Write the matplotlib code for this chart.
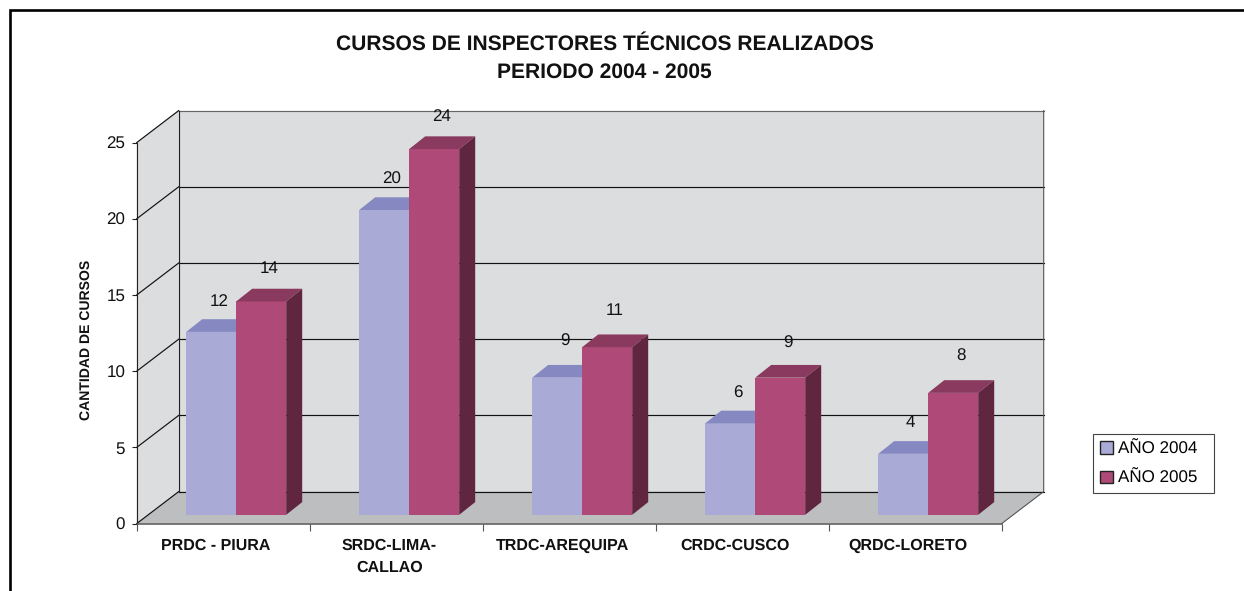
import matplotlib
matplotlib.use('Agg')
import numpy as np
import matplotlib.pyplot as plt
from matplotlib.lines import Line2D
from matplotlib.patches import Patch, Polygon

plt.rcParams['font.family'] = ['Liberation Sans', 'DejaVu Sans']
plt.rcParams['text.hinting'] = 'no_hinting'
plt.rcParams['text.hinting_factor'] = 1

# Datos
categorias = ['PRDC - PIURA', 'SRDC-LIMA-\nCALLAO', 'TRDC-AREQUIPA', 'CRDC-CUSCO', 'QRDC-LORETO']
anio_2004 = [12, 20, 9, 6, 4]
anio_2005 = [14, 24, 11, 9, 8]
ticks_y = [0, 5, 10, 15, 20, 25]

# Ajuste vertical de las etiquetas, en pixeles
ajuste_2004 = [-2, -2, 4, -3, -1]
ajuste_2005 = [0, 0, 4, 2, 4]

# Colores
c_pared = '#DCDDDF'
c_piso = '#BDBEC0'
c_2004 = ('#A9ABD6', '#8688C2')
c_2005 = ('#AF4977', '#8A3A5F', '#60263F')

W, H = 1244, 591
fig = plt.figure(figsize=(W / 100, H / 100), dpi=100)

# Ejes: el plano frontal del grafico 3D
x0, y0, ancho, alto = 136.7, 523.6, 865, 381
ax = fig.add_axes([x0 / W, (H - y0) / H, ancho / W, alto / H])
ax.set_xlim(0, 5)
ax.set_ylim(0, 25)
ax.patch.set_visible(False)
for s in ['top', 'right']:
    ax.spines[s].set_visible(False)
ax.spines['left'].set_color('#222222')
ax.spines['bottom'].set_color('#555555')
ax.spines['bottom'].set_linewidth(1.1)

# De pixeles a unidades de datos
px_x = 5 / ancho
px_y = 25 / alto
fondo_x, fondo_y = 42 * px_x, 32 * px_y


def poligono(puntos, color, z):
    ax.add_patch(Polygon(puntos, closed=True, facecolor=color, edgecolor='none', clip_on=False, zorder=z))


# Paredes y piso
poligono([(0, 0), (fondo_x, fondo_y), (fondo_x, 25 + fondo_y), (0, 25)], c_pared, 1)
poligono([(fondo_x, fondo_y), (5 + fondo_x, fondo_y), (5 + fondo_x, 25 + fondo_y), (fondo_x, 25 + fondo_y)], c_pared, 1)
poligono([(0, 0), (5, 0), (5 + fondo_x, fondo_y), (fondo_x, fondo_y)], c_piso, 1)

# Lineas de la cuadricula
for t in ticks_y:
    ax.plot([0, fondo_x], [t, t + fondo_y], color='#111111', lw=0.85, clip_on=False, zorder=2)
    ax.plot([fondo_x, 5 + fondo_x], [t + fondo_y, t + fondo_y], color='#666666' if t == 25 else '#111111',
            lw=0.85, clip_on=False, zorder=2)
ax.plot([fondo_x, fondo_x], [fondo_y, 25 + fondo_y], color='#222222', lw=0.85, clip_on=False, zorder=2)
ax.plot([5, 5 + fondo_x, 5 + fondo_x], [0, fondo_y, 25 + fondo_y], color='#555555', lw=0.8, clip_on=False, zorder=2)

# Barras
ancho_barra = 50 * px_x
base = 8.8 * px_y
prof_x, prof_y = 16 * px_x, 12.7 * px_y
centros = np.arange(5) + 0.5 + 13 * px_x

for i in range(5):
    for serie, color, xb, ajuste in [(anio_2004, c_2004, centros[i] - ancho_barra / 2, ajuste_2004),
                                     (anio_2005, c_2005, centros[i] + ancho_barra / 2, ajuste_2005)]:
        v = serie[i]
        izq, der = xb - ancho_barra / 2, xb + ancho_barra / 2
        ax.bar(xb, v, ancho_barra, bottom=base, color=color[0], zorder=3, clip_on=False)
        tope = v + base
        poligono([(izq, tope), (der, tope), (der + prof_x, tope + prof_y), (izq + prof_x, tope + prof_y)], color[1], 3)
        if len(color) > 2:
            poligono([(der, base), (der + prof_x, base + prof_y), (der + prof_x, tope + prof_y), (der, tope)],
                     color[2], 3)
        ax.text(xb + 7.5 * px_x, tope + (32.5 + ajuste[i]) * px_y, str(v), ha='center', va='center', fontsize=12,
                color='#111111', zorder=4)

# Ejes
ax.set_yticks(ticks_y)
ax.set_xticks(np.arange(6))
ax.set_xticklabels([])
ax.tick_params(axis='y', length=3.8, width=0.8, labelsize=12, pad=4.5, color='#222222', labelcolor='#111111')
ax.tick_params(axis='x', length=4.8, width=0.8, color='#555555')
ax.set_xticks(np.arange(5) + 0.5 - 7 * px_x, minor=True)
ax.set_xticklabels(categorias, minor=True, fontsize=11.75, fontweight='bold', color='#111111', linespacing=1.65)
ax.tick_params(axis='x', which='minor', length=0, pad=10.5)
ax.set_ylabel('CANTIDAD DE CURSOS', fontsize=9.95, fontweight='bold', color='#111111')
ax.yaxis.set_label_coords(93 / W, 1 - 340 / H, transform=fig.transFigure)

# Titulo
fig.text(604.5 / W, 1 - 58.5 / H, 'CURSOS DE INSPECTORES TÉCNICOS REALIZADOS\nPERIODO 2004 - 2005', ha='center',
         va='center', fontsize=15.4, fontweight='bold', color='#111111', linespacing=1.6)

# Leyenda
leg = fig.legend(handles=[Patch(facecolor=c_2004[0], edgecolor='#222222', label='AÑO 2004'),
                          Patch(facecolor=c_2005[0], edgecolor='#222222', label='AÑO 2005')],
                 loc='lower left', bbox_to_anchor=(1092.7 / W, 1 - 493.3 / H, 121.6 / W, 58.3 / H), mode='expand',
                 fontsize=12, fancybox=False, framealpha=1, edgecolor='#444444', handlelength=0.8,
                 handleheight=0.8, handletextpad=0.3, labelspacing=0.8, borderpad=0.42, borderaxespad=0)
leg.get_frame().set_linewidth(0.8)

# Marco exterior: solo arriba y a la izquierda
fig.add_artist(Line2D([9.7 / W, 9.7 / W, 1], [0, 1 - 10.2 / H, 1 - 10.2 / H], transform=fig.transFigure,
                      color='black', lw=1.9, solid_joinstyle='miter'))

fig.savefig('out.png', dpi=100)
